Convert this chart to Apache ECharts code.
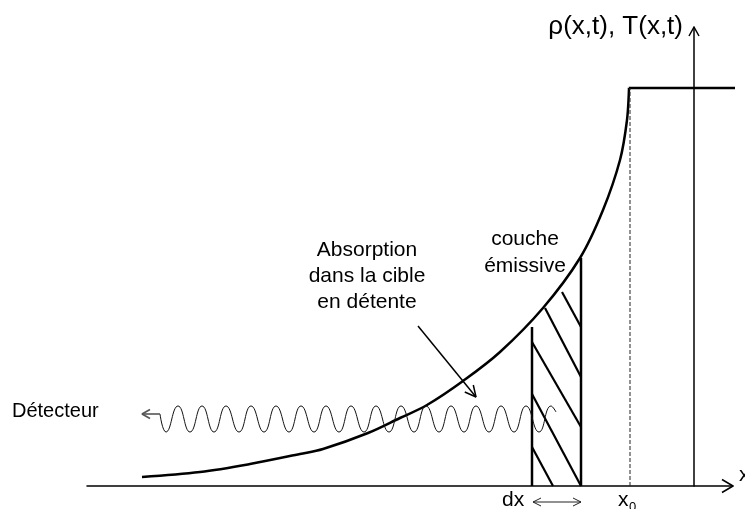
<!DOCTYPE html>
<html>
<head>
<meta charset="utf-8">
<script src="https://cdn.jsdelivr.net/npm/echarts@6/dist/echarts.min.js"></script>
<style>
  html, body { margin: 0; padding: 0; background: #fff; }
  #chart { width: 745px; height: 509px; }
</style>
</head>
<body>
<div id="chart"></div>
<script>
// diagram units: x counted from the vertical axis, y = height above the x axis

// axes extent
var xMin = -607, xMax = 39;
var yMin = 0, yMax = 459;

// profile of the expanding target (rising front, then the flat plateau)
var profileX = [-552, -494, -444, -394, -371, -326, -294, -267, -231, -194, -151, -114, -91, -74, -67, -65];
var profileY = [9, 14, 22, 32, 37, 53, 68, 81, 105, 134, 178, 228, 276, 326, 366, 398];
var plateauX = [-65, 51];
var plateauY = [398, 398];

// x0 position (dashed)
var x0 = -64;
var x0Top = 398;

// emissive layer dx
var layerLeft = -162, layerLeftTop = 159;
var layerRight = -113, layerRightTop = 228;
var hatchFrom = [[-132, 194], [-149, 178], [-162, 144], [-162, 92], [-162, 39]];
var hatchTo = [[-113, 159], [-113, 109], [-113, 59], [-113, 0], [-141, 0]];

// emitted wave towards the detector
var waveStart = [-534, 72];
var waveTroughX = [-528, -504, -480, -455, -430, -405, -380, -355, -330, -305, -280, -255, -230, -205, -180, -155];
var wavePeakX = [-516, -492, -468, -443, -418, -393, -368, -343, -318, -293, -268, -243, -218, -193, -168, -143];
var waveTroughY = 54, wavePeakY = 80;
var waveEnd = [-138, 74];
var detectorArrow = [[-534, 72], [-552, 72]];

// absorption pointer
var absorptionArrow = [[-276, 160], [-218, 89]];

// dx width marker under the axis
var dxArrow = [[-161, -16], [-113, -16]];

var FONT = '"Liberation Sans", Arial, sans-serif';

function chevron(from, to, len, half) {
  var dx = to[0] - from[0], dy = to[1] - from[1];
  var d = Math.sqrt(dx * dx + dy * dy);
  var ux = dx / d, uy = dy / d;
  var bx = to[0] - ux * len, by = to[1] - uy * len;
  return [[bx - uy * half, by + ux * half], to, [bx + uy * half, by - ux * half]];
}

function seg(points, color, width, extra) {
  var s = {
    type: 'line',
    data: points,
    symbol: 'none',
    clip: false,
    silent: true,
    lineStyle: { color: color, width: width, cap: 'butt' }
  };
  if (extra) Object.keys(extra).forEach(function (k) { s[k] = extra[k]; });
  return s;
}

var wave = [waveStart];
for (var i = 0; i < waveTroughX.length; i++) {
  wave.push([waveTroughX[i], waveTroughY]);
  wave.push([wavePeakX[i], wavePeakY]);
}
wave.push(waveEnd);

var profile = profileX.map(function (x, i) { return [x, profileY[i]]; });
var plateau = plateauX.map(function (x, i) { return [x, plateauY[i]]; });

var series = [];
series.push(seg(profile, '#000', 2.5, { smooth: 0.35 }));
series.push(seg(plateau, '#000', 2.5));
series.push(seg([[x0, 0], [x0, x0Top]], '#222', 1, {}));
series[series.length - 1].lineStyle.type = [4, 2];
series.push(seg([[layerLeft, 0], [layerLeft, layerLeftTop]], '#000', 2.5));
series.push(seg([[layerRight, 0], [layerRight, layerRightTop]], '#000', 2.5));
hatchFrom.forEach(function (p, i) {
  series.push(seg([p, hatchTo[i]], '#000', 2.2));
});
series.push(seg(wave, '#111', 1, { smooth: 0.5 }));
series.push(seg(detectorArrow, '#555', 1.6));
series.push(seg(chevron(detectorArrow[0], detectorArrow[1], 8, 4.5), '#555', 1.6));
series.push(seg(absorptionArrow, '#000', 1.5));
series.push(seg(chevron(absorptionArrow[0], absorptionArrow[1], 11, 5.5), '#000', 1.5));
series.push(seg(dxArrow, '#222', 1));
series.push(seg(chevron(dxArrow[1], dxArrow[0], 8, 4), '#222', 1));
series.push(seg(chevron(dxArrow[0], dxArrow[1], 8, 4), '#222', 1));
// axis heads
series.push(seg(chevron([xMax - 20, 0], [xMax, 0], 11, 6.5), '#000', 1.5));
series.push(seg(chevron([0, yMax - 20], [0, yMax], 9, 5), '#000', 1.5));

var chart = echarts.init(document.getElementById('chart'), null, { renderer: 'canvas' });

chart.setOption({
  animation: false,
  backgroundColor: '#fff',
  grid: { left: 87, right: 12, top: 27, bottom: 23, containLabel: false, outerBoundsMode: 'none' },
  xAxis: {
    type: 'value',
    min: xMin,
    max: xMax,
    name: 'x',
    nameLocation: 'end',
    nameGap: 6,
    nameTextStyle: { color: '#000', fontSize: 21, fontFamily: FONT, verticalAlign: 'bottom', align: 'left' },
    axisLine: { show: true, onZero: true, lineStyle: { color: '#000', width: 1.5 } },
    axisTick: { show: false },
    axisLabel: { show: false },
    splitLine: { show: false }
  },
  yAxis: {
    type: 'value',
    min: yMin,
    max: yMax,
    name: 'ρ(x,t), T(x,t)',
    nameLocation: 'end',
    nameGap: 0,
    nameTextStyle: { color: '#000', fontSize: 26, fontFamily: FONT, align: 'right', verticalAlign: 'middle', padding: [0, 11, 0, 0] },
    axisLine: { show: true, onZero: true, lineStyle: { color: '#000', width: 1.5 } },
    axisTick: { show: false },
    axisLabel: { show: false },
    splitLine: { show: false }
  },
  series: series,
  graphic: [
    {
      type: 'text', x: 367, y: 237,
      style: { text: 'Absorption\ndans la cible\nen détente', font: '21px ' + FONT, fill: '#000', align: 'center', verticalAlign: 'top', lineHeight: 26 }
    },
    {
      type: 'text', x: 525, y: 226,
      style: { text: 'couche\némissive', font: '21px ' + FONT, fill: '#000', align: 'center', verticalAlign: 'top', lineHeight: 27 }
    },
    {
      type: 'text', x: 12, y: 411,
      style: { text: 'Détecteur', font: '20px ' + FONT, fill: '#000', align: 'left', verticalAlign: 'middle' }
    },
    {
      type: 'text', x: 502, y: 500,
      style: { text: 'dx', font: '21px ' + FONT, fill: '#000', align: 'left', verticalAlign: 'middle' }
    },
    {
      type: 'text', x: 618, y: 500,
      style: { text: 'x', font: '21px ' + FONT, fill: '#000', align: 'left', verticalAlign: 'middle' }
    },
    {
      type: 'text', x: 629, y: 507,
      style: { text: '0', font: '13px ' + FONT, fill: '#000', align: 'left', verticalAlign: 'middle' }
    }
  ]
});
</script>
</body>
</html>
